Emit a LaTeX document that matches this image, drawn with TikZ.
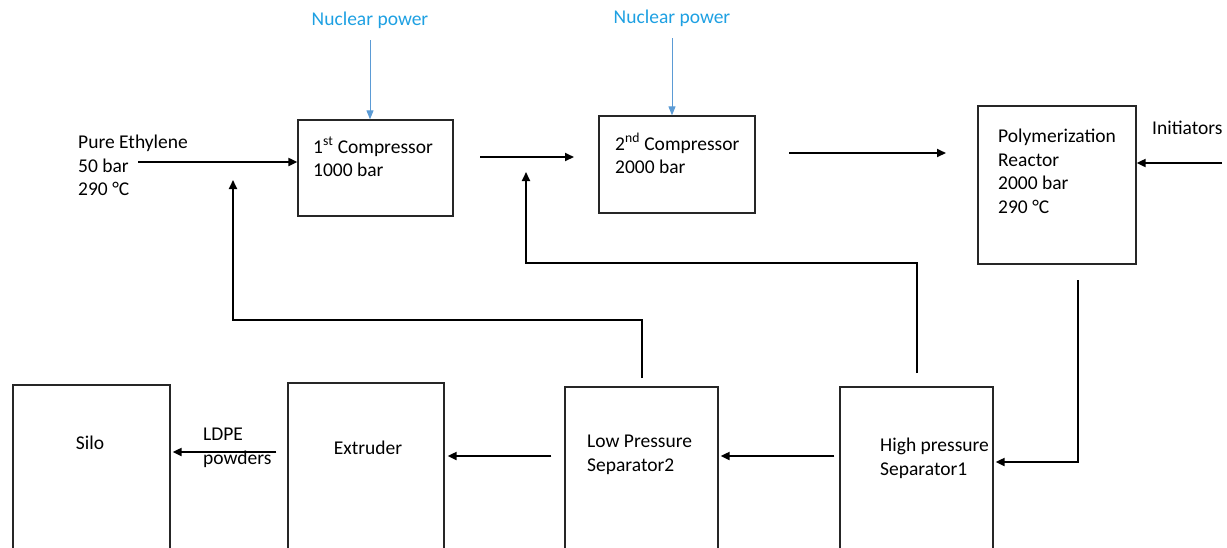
\documentclass[tikz,border=0pt]{standalone}
\usepackage{fontspec}
\setmainfont{Carlito}
\usetikzlibrary{arrows.meta}
\definecolor{npText}{RGB}{30,160,226}
\definecolor{npLine}{RGB}{91,155,213}
\tikzset{
  box/.style={draw=black!85, line width=1.3pt, inner sep=0pt},
  lbl/.style={inner sep=0pt, align=left, anchor=north west, font=\fontsize{19.5}{23.5}\selectfont},
  clbl/.style={inner sep=0pt, align=center, anchor=north, font=\fontsize{19.5}{23.5}\selectfont},
  flow/.style={line width=2pt, -{Triangle[length=9pt,width=8pt]}},
  pwr/.style={draw=npLine, line width=1pt, -{Triangle[length=9pt,width=7pt]}},
}
\begin{document}
\begin{tikzpicture}[x=1pt,y=-1pt]
\useasboundingbox (0,0) rectangle (1227,547);
\clip (0,0) rectangle (1227,547);
% boxes
\node[box, minimum width=155pt, minimum height=96pt] (c1) at (375.5,168) {};
\node[box, minimum width=156pt, minimum height=97pt] (c2) at (677,164.5) {};
\node[box, minimum width=158pt, minimum height=158pt] (re) at (1057,185) {};
\node[box, minimum width=153pt, minimum height=180pt] (hp) at (916.5,477) {};
\node[box, minimum width=153pt, minimum height=180pt] (lp) at (641.5,477) {};
\node[box, minimum width=156pt, minimum height=184pt] (ex) at (366,475) {};
\node[box, minimum width=157pt, minimum height=182pt] (si) at (91.5,476) {};
% texts
\node[lbl] (pe) at (78,135) {Pure Ethylene\\50 bar\\290 °C};
\node[lbl] (t1) at (313,137) {1\textsuperscript{st} Compressor\\1000 bar};
\node[lbl] (t2) at (615,133) {2\textsuperscript{nd} Compressor\\2000 bar};
\node[lbl] (tr) at (998,129) {Polymerization\\Reactor\\2000 bar\\290 °C};
\node[lbl] (in) at (1152,121) {Initiators};
\node[clbl, text=npText] (n1) at (370,12) {Nuclear power};
\node[clbl, text=npText] (n2) at (672,10) {Nuclear power};
\node[lbl] (th) at (880,438) {High pressure\\Separator1};
\node[lbl] (tl) at (587,435) {Low Pressure\\Separator2};
\node[clbl] (te) at (368,441) {Extruder};
\node[clbl] (ts) at (90,436) {Silo};
\node[lbl] (ld) at (203,428) {LDPE\\powders};
% free ends
\coordinate (peS) at (138,162);
\coordinate (c1o) at (480,157);
\coordinate (c2i) at (574,157);
\coordinate (c2o) at (789,153);
\coordinate (rei) at (946,153);
\coordinate (inS) at (1222,163);
\coordinate (reS) at (1078,280);
\coordinate (r1) at (642,378);
\coordinate (r1t) at (233,180);
\coordinate (r2) at (917,373);
\coordinate (r2t) at (526,172);
% connectors
\draw[pwr] (n1.south |- 0,40) -- (c1.north -| n1.south);
\draw[pwr] (n2.south |- 0,38) -- (c2.north -| n2.south);
\draw[flow] (peS) -- (c1.west |- peS);
\draw[flow] (c1o) -- (c2i);
\draw[flow] (c2o) -- (rei);
\draw[flow] (inS) -- (re.east |- inS);
\draw[flow] (reS) |- ([xshift=2pt]hp.east |- 0,462);
\draw[flow] ([xshift=-5pt]hp.west |- 0,456) -- ([xshift=2pt]lp.east |- 0,456);
\draw[flow] ([xshift=-13pt]lp.west |- 0,456) -- ([xshift=3pt]ex.east |- 0,456);
\draw[flow] ([xshift=-11pt]ex.west |- 0,452) -- ([xshift=2pt]si.east |- 0,452);
\draw[flow, line width=1.8pt] (r1) -- (642,320) -| (r1t);
\draw[flow, line width=1.8pt] (r2) -- (917,263) -| (r2t);
\end{tikzpicture}
\end{document}
